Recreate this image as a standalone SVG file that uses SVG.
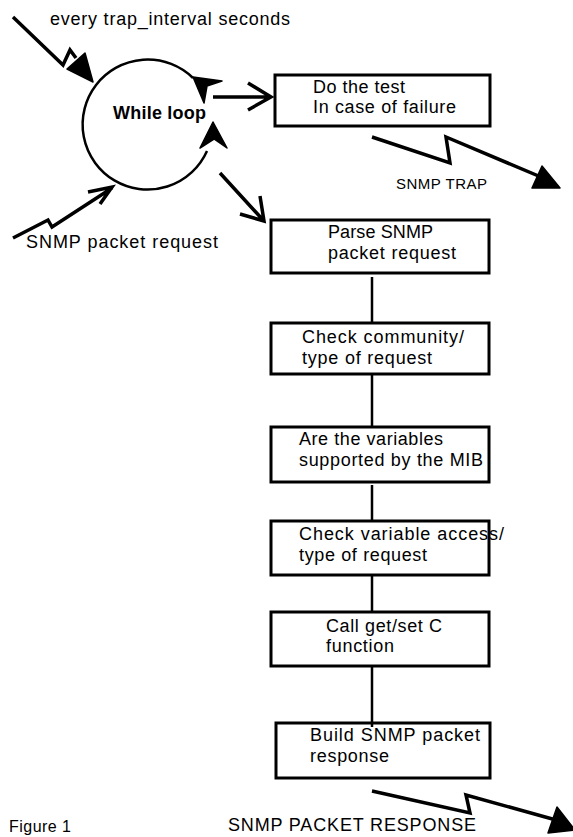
<svg xmlns="http://www.w3.org/2000/svg" width="573" height="837" viewBox="0 0 573 837">
<style>
text{font-family:"Liberation Sans",Arial,Helvetica,sans-serif;font-size:18px;fill:#000}
.box{fill:#fff;stroke:#000;stroke-width:3}
.ln{fill:none;stroke:#000;stroke-width:2.5}
.ar{fill:none;stroke:#000;stroke-width:3.5;stroke-linejoin:miter}
.hd{fill:#000;stroke:#000;stroke-width:1.5;stroke-linejoin:round}
.b{font-weight:bold}
.s{font-size:15px}
</style>
<rect width="573" height="837" fill="#fff"/>
<g id="labels">
<text x="50" y="25" textLength="240" lengthAdjust="spacing">every trap_interval seconds</text>
<text x="26" y="248" textLength="192" lengthAdjust="spacing">SNMP packet request</text>
<text x="396" y="189" class="s" textLength="91" lengthAdjust="spacing">SNMP TRAP</text>
<text x="228" y="831" textLength="248" lengthAdjust="spacing">SNMP PACKET RESPONSE</text>
<text x="9" y="832" style="font-size:16px" textLength="62" lengthAdjust="spacing">Figure 1</text>
</g>
<g id="while-loop">
<path class="ln" d="M193,78 A65,65 0 1 0 207,151"/>
<polygon class="hd" points="213,122 227,148 214,139 200,148"/>
<polygon class="hd" points="193,77 222,81 207,86 204,103"/>
<text x="113" y="119" class="b" textLength="93" lengthAdjust="spacing">While loop</text>
</g>
<g id="do-test">
<rect class="box" x="275" y="75" width="215" height="51"/>
<text x="313" y="93" textLength="92" lengthAdjust="spacing">Do the test</text>
<text x="313" y="113" textLength="143" lengthAdjust="spacing">In case of failure</text>
</g>
<g id="parse">
<rect class="box" x="271" y="220" width="218" height="53"/>
<text x="328" y="238" textLength="105" lengthAdjust="spacing">Parse SNMP</text>
<text x="328" y="259" textLength="128" lengthAdjust="spacing">packet request</text>
</g>
<g id="check-community">
<rect class="box" x="271" y="323" width="218" height="51"/>
<text x="302" y="343" textLength="162" lengthAdjust="spacing">Check community/</text>
<text x="302" y="364" textLength="130" lengthAdjust="spacing">type of request</text>
</g>
<g id="variables">
<rect class="box" x="271" y="427" width="218" height="55"/>
<text x="299" y="445" textLength="144" lengthAdjust="spacing">Are the variables</text>
<text x="299" y="466" textLength="184" lengthAdjust="spacing">supported by the MIB</text>
</g>
<g id="check-access">
<rect class="box" x="271" y="521" width="218" height="54"/>
<text x="299" y="540" textLength="205" lengthAdjust="spacing">Check variable access/</text>
<text x="299" y="561" textLength="128" lengthAdjust="spacing">type of request</text>
</g>
<g id="call">
<rect class="box" x="271" y="612" width="218" height="54"/>
<text x="326" y="632" textLength="116" lengthAdjust="spacing">Call get/set C</text>
<text x="326" y="652" textLength="68" lengthAdjust="spacing">function</text>
</g>
<g id="build">
<rect class="box" x="276" y="723" width="214" height="55"/>
<text x="310" y="741" textLength="170" lengthAdjust="spacing">Build SNMP packet</text>
<text x="310" y="762" textLength="79" lengthAdjust="spacing">response</text>
</g>
<g id="connectors">
<path class="ln" d="M372,277 V323 M372,374 V427 M372,485 V521 M372,575 V612 M372,666 V727"/>
<path class="ar" d="M13,17 L63,65 L70,50 L76,58"/>
<polygon class="hd" points="67,69 85,53 93,82"/>
<path class="ar" d="M213,97 H270 M248,83 L271,97 L248,110"/>
<path class="ar" d="M220,173 L263,220 M240,214 L264,221 L260,196"/>
<path class="ar" d="M13,238 L48,220 L52,227 L112,188 M88,192 L112,187 L100,204"/>
<path class="ar" d="M372,137 L450,163 L446,137 L548,180"/>
<polygon class="hd" points="542,166 532,188 560,188"/>
<path class="ar" d="M372,791 L470,813 L466,795 L556,820"/>
<polygon class="hd" points="557,807 548,833 575,830"/>
</g>
</svg>
